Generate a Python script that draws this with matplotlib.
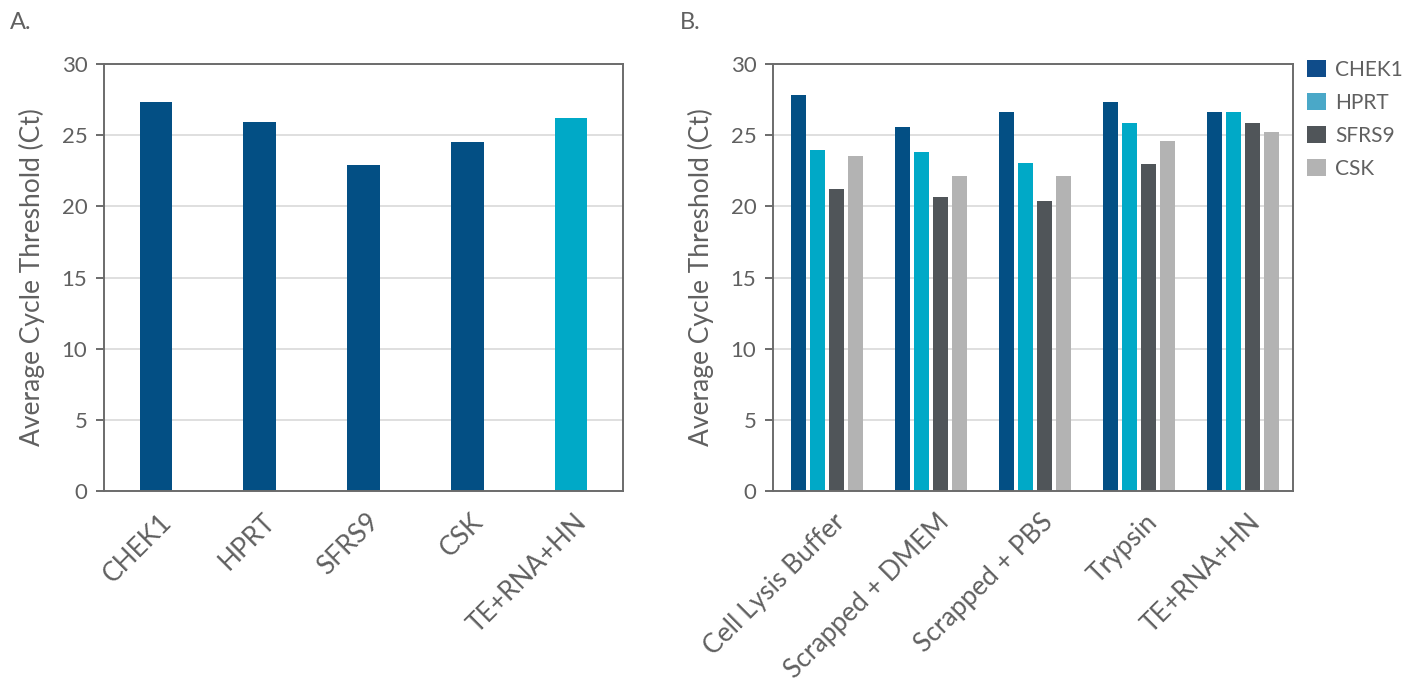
import numpy as np
import matplotlib
matplotlib.use('Agg')
import matplotlib.pyplot as plt
from matplotlib.patches import Patch

plt.rcParams['font.family'] = ['Lato', 'DejaVu Sans']

# ── Dữ liệu panel A ──
genes_a = ['CHEK1', 'HPRT', 'SFRS9', 'CSK', 'TE+RNA+HN']
ct_a = [27.3, 25.9, 22.9, 24.5, 26.2]
colors_a = ['#034f84', '#034f84', '#034f84', '#034f84', '#00a9c7']

# ── Dữ liệu panel B ──
methods_b = ['Cell Lysis Buffer', 'Scrapped + DMEM', 'Scrapped + PBS', 'Trypsin', 'TE+RNA+HN']
chek1_b = [27.8, 25.6, 26.6, 27.3, 26.6]
hprt_b = [23.95, 23.8, 23.05, 25.85, 26.6]
sfrs9_b = [21.25, 20.65, 20.4, 22.95, 25.85]
csk_b = [23.55, 22.15, 22.15, 24.6, 25.2]
series_names = ['CHEK1', 'HPRT', 'SFRS9', 'CSK']
series_colors = ['#034f84', '#00a9c7', '#505559', '#b3b3b3']
legend_colors = ['#0f4c8a', '#4aa8c8', '#505559', '#b3b3b3']

TXT = '#606060'
SPINE = '#6b6b6b'
GRID = '#d9d9d9'

W, H = 1414, 692
fig = plt.figure(figsize=(W / 100, H / 100), dpi=100)
ax_a = fig.add_axes([104 / W, 1 - 491 / H, (623 - 104) / W, (491 - 64) / H])
ax_b = fig.add_axes([773 / W, 1 - 491 / H, (1293 - 773) / W, (491 - 64) / H])


def style_axes(ax):
    ax.set_ylim(0, 30)
    ax.set_yticks(np.arange(0, 31, 5))
    ax.yaxis.grid(True, color=GRID, linewidth=1.2)
    ax.set_axisbelow(True)
    for sp in ax.spines.values():
        sp.set_color(SPINE)
        sp.set_linewidth(1.4)
    ax.tick_params(axis='y', colors=SPINE, labelcolor=TXT, labelsize=16,
                   length=6, width=1.4, pad=6)
    ax.tick_params(axis='x', length=0, labelcolor=TXT, labelsize=19, pad=13)
    ax.set_ylabel('Average Cycle Threshold (Ct)', fontsize=19, color=TXT, labelpad=12)


# ── Panel A ──
xa = np.arange(len(genes_a))
ax_a.bar(xa, ct_a, width=0.314, color=colors_a)
ax_a.set_xlim(-0.5, len(genes_a) - 0.5)
style_axes(ax_a)
ax_a.set_xticks(xa + 0.03)
ax_a.set_xticklabels(genes_a, rotation=45, ha='right', rotation_mode='anchor')

# ── Panel B ──
xb = np.arange(len(methods_b)) + 0.02
step = 0.181
w = 0.147
for i, (vals, col) in enumerate(zip([chek1_b, hprt_b, sfrs9_b, csk_b], series_colors)):
    ax_b.bar(xb + (i - 1.5) * step, vals, width=w, color=col)
ax_b.set_xlim(-0.5, len(methods_b) - 0.5)
style_axes(ax_b)
ax_b.set_xticks(xb + 0.05)
ax_b.set_xticklabels(methods_b, rotation=45, ha='right', rotation_mode='anchor')

handles = [Patch(facecolor=c, edgecolor='none') for c in legend_colors]
fig.legend(handles, series_names, loc='upper left', bbox_to_anchor=(1307 / W, 1 - 60 / H),
           frameon=False, fontsize=15, labelcolor=TXT, handlelength=0.9, handleheight=0.9,
           handletextpad=0.45, labelspacing=0.62, borderpad=0, borderaxespad=0)

fig.text(10 / W, 1 - 12 / H, 'A.', fontsize=17, color=TXT, va='top', ha='left')
fig.text(680 / W, 1 - 12 / H, 'B.', fontsize=17, color=TXT, va='top', ha='left')

fig.savefig('out.png', dpi=100)
